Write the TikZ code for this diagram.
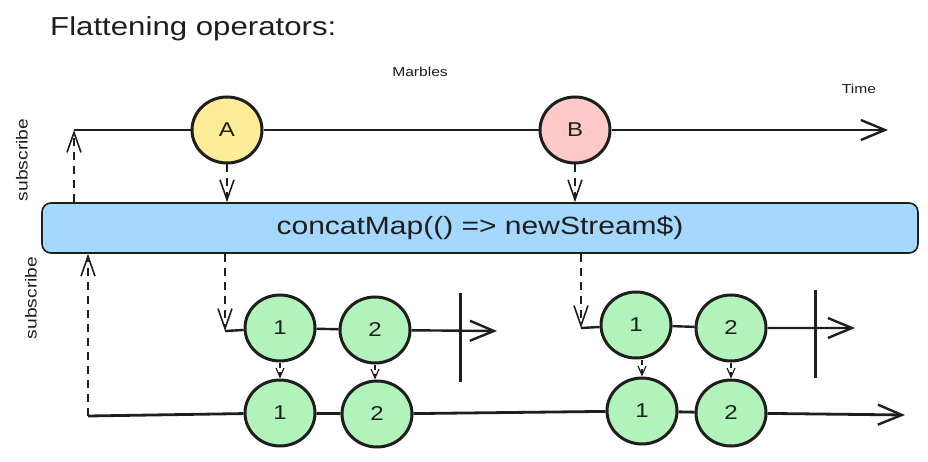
\documentclass[tikz,border=0pt]{standalone}
\usepackage{fontspec}
\setmainfont{Liberation Sans}
\newfontfamily\handfont[FakeStretch=1.2]{Liberation Sans}
\usetikzlibrary{arrows.meta,shapes.geometric,calc}
\definecolor{ink}{HTML}{1E1E1E}
\definecolor{yel}{HTML}{FFEC99}
\definecolor{pnk}{HTML}{FFC9C9}
\definecolor{grn}{HTML}{B2F2BB}
\definecolor{blu}{HTML}{A5D8FF}
\tikzset{
  marble/.style={ellipse, draw=ink, line width=3pt, minimum width=70pt, minimum height=66pt, inner sep=0pt, font=\handfont\fontsize{20}{20}\selectfont, text=ink},
  timeline/.style={draw=ink, line width=2.8pt},
  bigtip/.style={-{Straight Barb[length=24pt,width=20pt,line width=2.4pt]}},
  dsh/.style={draw=ink, line width=1.6pt, dash pattern=on 8pt off 6pt},
  dshtip/.style={-{Straight Barb[length=20pt,width=14pt,line width=1.6pt]}},
  smalltip/.style={-{Straight Barb[length=9pt,width=8pt,line width=1.2pt]}},
  barline/.style={draw=ink, line width=3pt},
  lbl/.style={text=ink, inner sep=0pt}
}
\begin{document}
\begin{tikzpicture}[x=1pt,y=-1pt]
\useasboundingbox (0,0) rectangle (928,462);
% texts
\node[lbl, anchor=west, font=\handfont\fontsize{26}{26}\selectfont] (title) at (50,29) {Flattening operators:};
\node[lbl, font=\handfont\fontsize{13}{13}\selectfont] (marbles) at (420,72) {Marbles};
\node[lbl, font=\handfont\fontsize{13}{13}\selectfont] (time) at (859,89) {Time};
\node[lbl, rotate=90, font=\handfont\fontsize{16}{16}\selectfont] (sub1) at (22,160) {subscribe};
\node[lbl, rotate=90, font=\handfont\fontsize{16}{16}\selectfont] (sub2) at (31,298) {subscribe};
% operator box
\node[draw=ink, fill=blu, line width=1.6pt, rounded corners=9pt, minimum width=876pt, minimum height=50pt, inner sep=0pt, text=ink, font=\handfont\fontsize{25}{25}\selectfont] (box) at (480,228) {concatMap(() => newStream\$)};
% top stream
\coordinate (s1) at (74,130);
\coordinate (e1) at (888,130);
\node[marble, fill=yel] (A) at (227,130) {A};
\node[marble, fill=pnk] (B) at (575,130) {B};
\draw[timeline, bigtip] (s1) -- (A) -- (B) -- (e1);
\draw[dsh, dshtip] (A.south) -- (A.south |- box.north);
\draw[dsh, dshtip] (B.south) -- (B.south |- box.north);
\draw[dsh, dshtip] (s1 |- box.north) -- (s1);
% inner stream 1
\coordinate (i1s) at (225,331);
\coordinate (i1e) at (497,331);
\node[marble, fill=grn] (c11) at (280,328) {1};
\node[marble, fill=grn] (c12) at (375,330) {2};
\draw[timeline, line width=2.4pt, bigtip] (i1s) -- (c11) -- (c12) -- (i1e);
\coordinate (b1t) at (460,293);
\coordinate (b1b) at (460,382);
\draw[barline] (b1t) -- (b1b);
\draw[dsh, dshtip] (i1s |- box.south) -- (i1s);
% inner stream 2
\coordinate (i2s) at (581,328);
\coordinate (i2e) at (855,328);
\node[marble, fill=grn] (c21) at (636,325) {1};
\node[marble, fill=grn] (c22) at (731,328) {2};
\draw[timeline, line width=2.4pt, bigtip] (i2s) -- (c21) -- (c22) -- (i2e);
\coordinate (b2t) at (815,290);
\coordinate (b2b) at (815,378);
\draw[barline] (b2t) -- (b2b);
\draw[dsh, dshtip] (i2s |- box.south) -- (i2s);
% output stream
\coordinate (os) at (88,416);
\coordinate (oe) at (905,415);
\node[marble, fill=grn] (d11) at (280,413) {1};
\node[marble, fill=grn] (d12) at (377,414) {2};
\node[marble, fill=grn] (d21) at (642,411) {1};
\node[marble, fill=grn] (d22) at (731,413) {2};
\draw[timeline, bigtip] (os) -- (d11) -- (d12) -- (d21) -- (d22) -- (oe);
\draw[dsh, dshtip] (os) -- (os |- box.south);
% small emission arrows
\draw[dsh, dash pattern=on 5pt off 4pt, line width=1.2pt, smalltip] (c11.south) -- (d11.north);
\draw[dsh, dash pattern=on 5pt off 4pt, line width=1.2pt, smalltip] (c12.south) -- (c12.south |- d12.north);
\draw[dsh, dash pattern=on 5pt off 4pt, line width=1.2pt, smalltip] (c21.south -| d21.north) -- (d21.north);
\draw[dsh, dash pattern=on 5pt off 4pt, line width=1.2pt, smalltip] (c22.south) -- (d22.north);
\end{tikzpicture}
\end{document}
